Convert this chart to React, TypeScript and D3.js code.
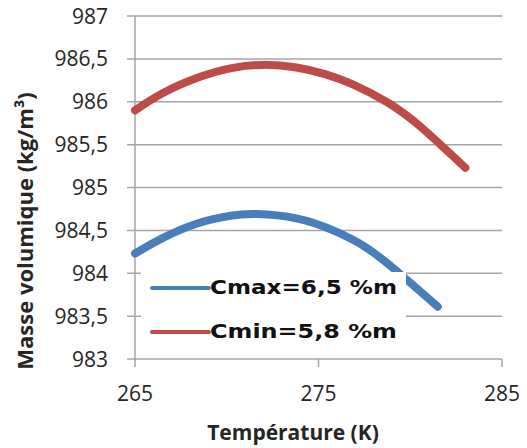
import React from "react";
import * as d3 from "d3";

const yTicks = [983, 983.5, 984, 984.5, 985, 985.5, 986, 986.5, 987];
const xTicks = [265, 275, 285];

const minT = [265, 266.5, 268.4, 270.2, 272, 273.8, 275.4, 276.9, 278.7, 280.5, 283];
const minV = [985.9, 986.1, 986.28, 986.39, 986.43, 986.4, 986.32, 986.2, 986.0, 985.72, 985.23];

const maxT = [265, 266.5, 268.4, 270.2, 271.6, 273.8, 275.8, 277.6, 279.4, 281.5];
const maxV = [984.23, 984.41, 984.58, 984.67, 984.69, 984.64, 984.5, 984.3, 984.0, 983.61];

const seriesNames = ["Cmax=6,5 %m", "Cmin=5,8 %m"];
const seriesColors = ["#4A7EBB", "#BE4B48"];

const W = 527;
const H = 448;
const L = 135, R = 502, T = 16, B = 359;

export default function App() {
  const x = d3.scaleLinear().domain([265, 285]).range([L, R]);
  const y = d3.scaleLinear().domain([983, 987]).range([B, T]);
  const line = d3
    .line<[number, number]>()
    .x((d) => x(d[0]))
    .y((d) => y(d[1]))
    .curve(d3.curveNatural);
  const maxPts = maxT.map((t, i) => [t, maxV[i]] as [number, number]);
  const minPts = minT.map((t, i) => [t, minV[i]] as [number, number]);
  const labelFont = "'Open Sans', sans-serif";
  return (
    <svg width={W} height={H} style={{ position: "absolute", left: 0, top: 0, background: "#fff" }}>
      {yTicks.map((v) => (
        <g key={v}>
          <line x1={L - 8} x2={R} y1={y(v)} y2={y(v)} stroke="#A6A6A6" strokeWidth={1.5} />
          <text x={108} y={y(v)} dy="0.36em" textAnchor="end" fontFamily={labelFont} fontSize={21} fill="#262626">
            {String(v).replace(".", ",")}
          </text>
        </g>
      ))}
      {xTicks.map((v) => (
        <g key={v}>
          <line x1={x(v)} x2={x(v)} y1={B} y2={B + 8} stroke="#A6A6A6" strokeWidth={1.5} />
          <text x={x(v)} y={401} textAnchor="middle" fontFamily={labelFont} fontSize={21} fill="#262626">
            {v}
          </text>
        </g>
      ))}
      <line x1={L} x2={L} y1={T} y2={B} stroke="#A6A6A6" strokeWidth={1.5} />
      <path d={line(minPts) || ""} fill="none" stroke={seriesColors[1]} strokeWidth={8} strokeLinecap="round" />
      <path d={line(maxPts) || ""} fill="none" stroke={seriesColors[0]} strokeWidth={8} strokeLinecap="round" />
      <rect x={141} y={272} width={265} height={80} fill="#fff" />
      {seriesNames.map((n, i) => (
        <g key={n}>
          <line x1={152} x2={209} y1={288 + i * 44} y2={288 + i * 44} stroke={seriesColors[i]} strokeWidth={4} strokeLinecap="round" />
          <text x={210} y={294 + i * 44} fontFamily="'DejaVu Sans', sans-serif" fontWeight="bold" fontSize={20} fill="#111" textLength={187} lengthAdjust="spacingAndGlyphs">
            {n}
          </text>
        </g>
      ))}
      <text x={293} y={440} textAnchor="middle" fontFamily={labelFont} fontWeight="bold" fontSize={21} fill="#262626">
        Température (K)
      </text>
      <text transform="translate(33,231) rotate(-90)" textAnchor="middle" fontFamily={labelFont} fontWeight="bold" fontSize={22} fill="#262626">
        Masse volumique (kg/m³)
      </text>
    </svg>
  );
}
